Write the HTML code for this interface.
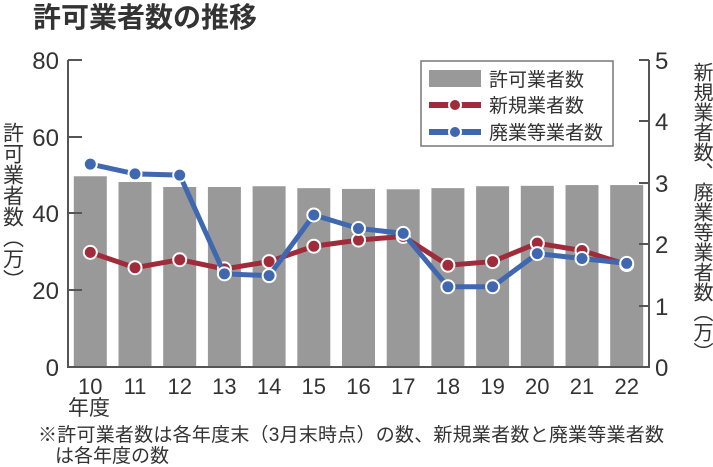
<!DOCTYPE html>
<html><head><meta charset="utf-8"><style>
body{margin:0;background:#fff}
svg{display:block}
text{font-family:"Liberation Sans","Noto Sans CJK JP",sans-serif;fill:#333}
.v{writing-mode:vertical-rl;font-size:20px}
</style></head><body>
<svg width="713" height="467" viewBox="0 0 713 467">
<text x="33" y="27" font-size="28" font-weight="bold" fill="#333">許可業者数の推移</text>
<g id="bars" fill="#999"></g>
<g stroke="#555" stroke-width="2" fill="none">
<path d="M68 60 V367 H649 V60"/>
<path d="M68 60 h14 M68 137 h14 M68 213 h14 M68 290 h14"/>
<path d="M649 60 h-10 M649 121 h-10 M649 183 h-10 M649 244 h-10 M649 306 h-10"/>
</g>
<g font-size="24" text-anchor="end">
<text x="59" y="69">80</text><text x="59" y="146">60</text><text x="59" y="222">40</text><text x="59" y="299">20</text><text x="59" y="376">0</text>
</g>
<g font-size="24">
<text x="655" y="69">5</text><text x="655" y="130">4</text><text x="655" y="192">3</text><text x="655" y="253">2</text><text x="655" y="315">1</text><text x="655" y="376">0</text>
</g>
<g font-size="22" text-anchor="middle" id="xl"></g>
<text x="68" y="415" font-size="21">年度</text>
<text class="v" x="12" y="122" style="font-size:21px">許可業者数（万）</text>
<text class="v" x="701" y="62">新規業者数、廃業等業者数（万）</text>
<g id="lines"></g>
<rect x="421" y="61" width="192" height="85" fill="#fff" stroke="#777" stroke-width="1.5"/>
<rect x="429" y="70" width="52" height="17" fill="#999"/>
<text x="489" y="86" font-size="19">許可業者数</text>
<path d="M429 105 h52" stroke="#a02b3a" stroke-width="6"/><circle cx="455" cy="105" r="6" fill="#a02b3a" stroke="#fff" stroke-width="2"/>
<text x="489" y="112" font-size="19">新規業者数</text>
<path d="M429 132 h52" stroke="#3f68b0" stroke-width="6"/><circle cx="455" cy="132" r="6" fill="#3f68b0" stroke="#fff" stroke-width="2"/>
<text x="489" y="139" font-size="19">廃業等業者数</text>
<text x="38" y="441" font-size="19" textLength="626">※許可業者数は各年度末（3月末時点）の数、新規業者数と廃業等業者数</text>
<text x="55" y="462" font-size="19">は各年度の数</text>
</svg>
<script>
var ns="http://www.w3.org/2000/svg";
function el(t,a,p){var e=document.createElementNS(ns,t);for(var k in a)e.setAttribute(k,a[k]);document.getElementById(p).appendChild(e);return e;}
var bars=[49.8,48.3,47,47,47.2,46.7,46.5,46.4,46.7,47.2,47.3,47.5,47.5];
var red=[1.87,1.62,1.75,1.6,1.72,1.97,2.07,2.13,1.66,1.72,2.02,1.9,1.67];
var blue=[3.31,3.15,3.13,1.52,1.49,2.48,2.26,2.18,1.31,1.31,1.85,1.77,1.69];
function cx(i){return 90.3+i*44.7;}
for(var i=0;i<13;i++){var h=bars[i]*3.83;el("rect",{x:cx(i)-16.5,y:367-h,width:33,height:h},"bars");
var t=el("text",{x:cx(i),y:394},"xl");t.textContent=10+i;}
function line(d,c){var pts=d.map(function(v,i){return cx(i)+","+(367-v*61.3)}).join(" ");
el("polyline",{points:pts,fill:"none",stroke:c,"stroke-width":5},"lines");
d.forEach(function(v,i){el("circle",{cx:cx(i),cy:367-v*61.3,r:6.5,fill:c,stroke:"#fff","stroke-width":2},"lines");});}
line(red,"#a02b3a");line(blue,"#3f68b0");
</script>
</body></html>
